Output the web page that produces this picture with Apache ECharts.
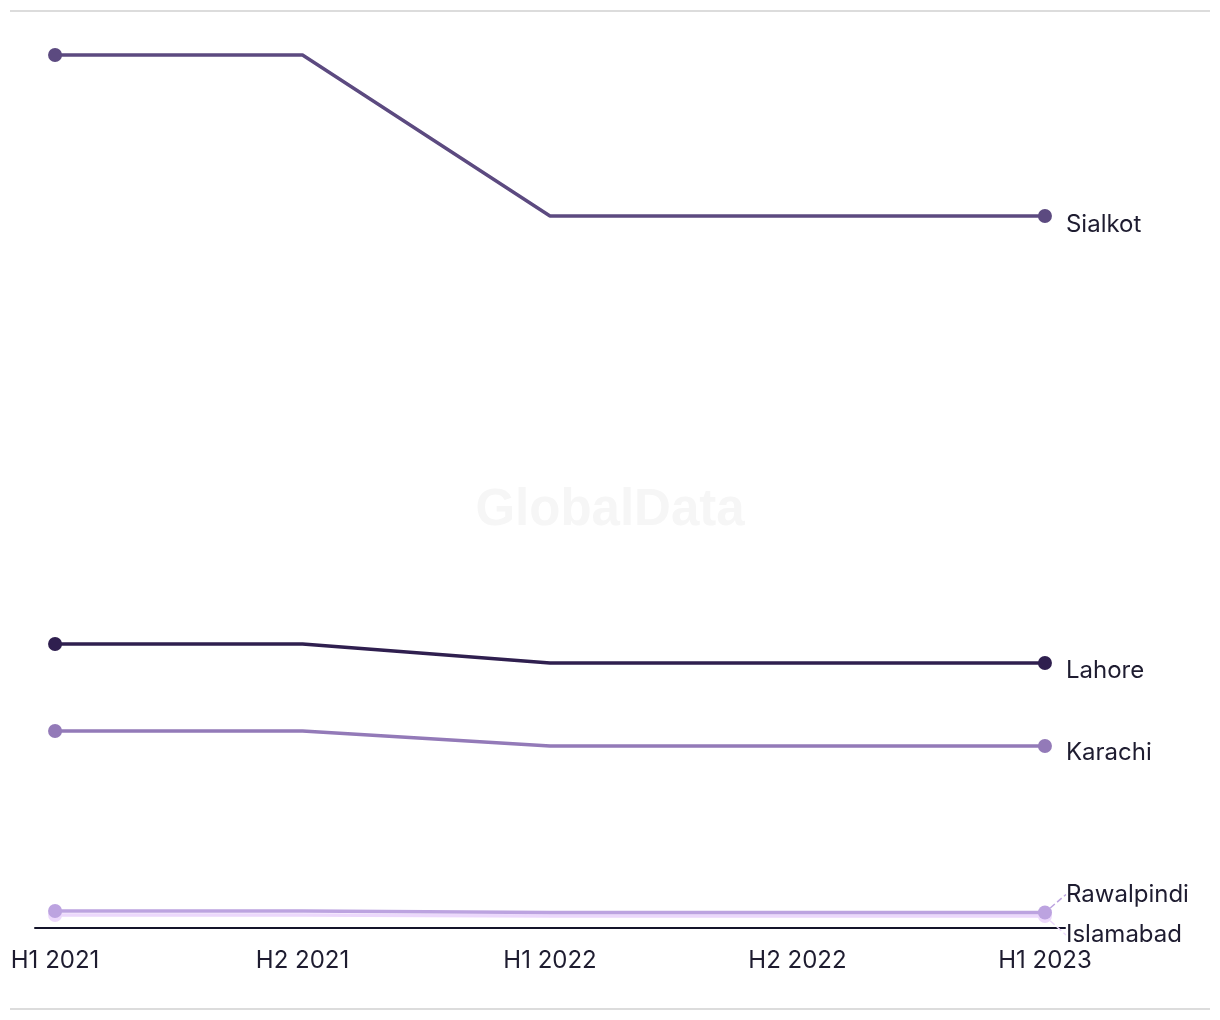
<!DOCTYPE html>
<html>
<head>
<meta charset="utf-8">
<script src="https://cdn.jsdelivr.net/npm/echarts@6/dist/echarts.min.js"></script>
<style>html,body{margin:0;padding:0;background:#fff}#c{width:1220px;height:1020px}</style>
</head>
<body>
<div id="c"></div>
<script>
const categories = ['H1 2021', 'H2 2021', 'H1 2022', 'H2 2022', 'H1 2023'];
const seriesNames = ['Sialkot', 'Lahore', 'Karachi', 'Rawalpindi', 'Islamabad'];
const sialkot = [87.3, 87.3, 71.2, 71.2, 71.2];
const lahore = [28.4, 28.4, 26.5, 26.5, 26.5];
const karachi = [19.7, 19.7, 18.2, 18.2, 18.2];
const rawalpindi = [1.7, 1.7, 1.55, 1.55, 1.55];
const islamabad = [1.3, 1.3, 1.2, 1.2, 1.2];
const colors = ['#5c4a80', '#2f1f4f', '#937ab8', '#bca3e0', '#ecd8fc'];
const labelDy = [9, 8, 7, -18, 19];

const values = [sialkot, lahore, karachi, rawalpindi, islamabad];
const font = 'Inter, "Noto Sans", sans-serif';

const series = values.map((vals, s) => ({
  name: seriesNames[s],
  type: 'line',
  z: 10 - s,
  data: vals.map((v, i) => {
    const item = { value: [i, v] };
    if (i === 0 || i === vals.length - 1) {
      item.symbol = 'circle';
      item.symbolSize = 14;
    } else {
      item.symbol = 'none';
    }
    if (i === vals.length - 1) {
      item.label = {
        show: true, position: 'right', distance: 14,
        formatter: seriesNames[s], color: '#1e1c30',
        fontSize: 24, fontFamily: font
      };
      item.labelLine = {
        show: s >= 3,
        lineStyle: { type: 'dashed', color: colors[s], width: 1.5 }
      };
    }
    return item;
  }),
  showSymbol: true,
  lineStyle: { width: 3.4, color: colors[s] },
  itemStyle: { color: colors[s] },
  labelLayout: { dy: labelDy[s] },
  emphasis: { disabled: true },
  animation: false
}));

const chart = echarts.init(document.getElementById('c'));
chart.setOption({
  animation: false,
  grid: { left: 35, right: 155, top: 28, bottom: 92 },
  xAxis: {
    type: 'value',
    min: -0.081, max: 4.081,
    axisLine: { show: true, lineStyle: { color: '#14142a', width: 2 } },
    axisTick: { show: false },
    splitLine: { show: false },
    axisLabel: {
      customValues: [0, 1, 2, 3, 4],
      formatter: v => categories[Math.round(v)],
      color: '#1e1c30', fontSize: 24, fontFamily: font, margin: 21
    }
  },
  yAxis: {
    type: 'value', min: 0, max: 90,
    axisLine: { show: false }, axisTick: { show: false },
    axisLabel: { show: false }, splitLine: { show: false }
  },
  graphic: [
    { type: 'text', x: 610, y: 511, z: -1, silent: true,
      style: { text: 'GlobalData', fill: '#f6f6f6', fontSize: 51, fontWeight: 'bold',
        fontFamily: '"Liberation Sans", Arial, sans-serif', align: 'center', verticalAlign: 'middle' } },
    { type: 'line', silent: true, shape: { x1: 10, y1: 11, x2: 1210, y2: 11 }, style: { stroke: '#dcdcdc', lineWidth: 2 } },
    { type: 'line', silent: true, shape: { x1: 10, y1: 1009, x2: 1210, y2: 1009 }, style: { stroke: '#dcdcdc', lineWidth: 2 } }
  ],
  series: series
});
</script>
</body>
</html>
